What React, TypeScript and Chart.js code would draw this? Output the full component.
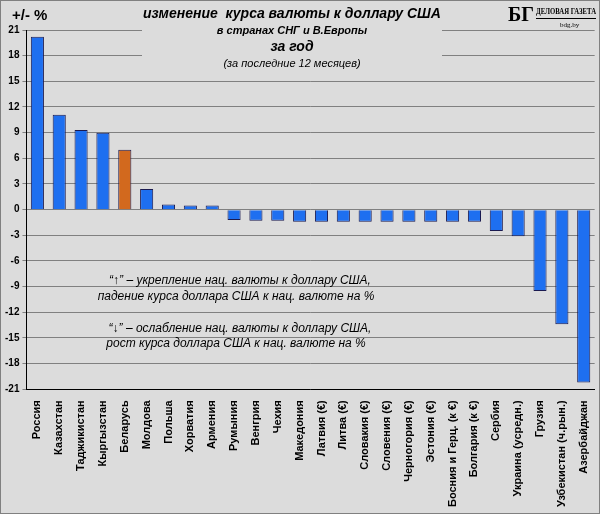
import React, { useEffect, useRef } from "react";
import { Chart, registerables } from "chart.js";
Chart.register(...registerables);

const categories = ["Россия","Казахстан","Таджикистан","Кыргызстан","Беларусь","Молдова","Польша","Хорватия","Армения","Румыния","Венгрия","Чехия","Македония","Латвия (€)","Литва (€)","Словакия (€)","Словения (€)","Черногория (€)","Эстония (€)","Босния и Герц. (к €)","Болгария (к €)","Сербия","Украина (усредн.)","Грузия","Узбекистан (ч.рын.)","Азербайджан"];
const values = [20.2,11.1,9.3,9.0,7.0,2.4,0.6,0.5,0.5,-1.2,-1.3,-1.3,-1.4,-1.4,-1.4,-1.4,-1.4,-1.4,-1.4,-1.4,-1.4,-2.5,-3.1,-9.5,-13.4,-20.2];
const highlight = "Беларусь";
const titleLines = ["изменение  курса валюты к доллару США","в странах СНГ и В.Европы","за год","(за последние 12 месяцев)"];
const note1 = ["“↑” – укрепление нац. валюты к доллару США,","падение курса доллара США к нац. валюте на %"];
const note2 = ["“↓” – ослабление нац. валюты к доллару США,","рост курса доллара США к нац. валюте на %"];

export default function App() {
  const ref = useRef<HTMLCanvasElement>(null);
  useEffect(() => {
    document.body.style.margin = "0";
    const deco = {
      id: "deco",
      beforeDraw(c: any) {
        const ctx = c.ctx;
        ctx.save();
        ctx.fillStyle = "#dcdcdc";
        ctx.fillRect(0, 0, 600, 514);
        ctx.strokeStyle = "#808080";
        ctx.lineWidth = 1;
        ctx.strokeRect(0.5, 0.5, 599, 513);
        ctx.restore();
      },
      afterDatasetsDraw(c: any) {
        const ctx = c.ctx;
        ctx.save();
        ctx.fillStyle = "#dcdcdc";
        ctx.fillRect(142, 4, 300, 70);
        ctx.fillRect(500, 2, 98, 26);
        ctx.fillStyle = "#000";
        ctx.textAlign = "center";
        ctx.textBaseline = "middle";
        ctx.font = "italic bold 14px 'Liberation Sans', Arial";
        ctx.fillText(titleLines[0], 292, 14);
        ctx.font = "italic bold 11px 'Liberation Sans', Arial";
        ctx.fillText(titleLines[1], 292, 31);
        ctx.font = "italic bold 14px 'Liberation Sans', Arial";
        ctx.fillText(titleLines[2], 292, 47);
        ctx.font = "italic 11px 'Liberation Sans', Arial";
        ctx.fillText(titleLines[3], 292, 64);
        ctx.font = "italic 12px 'Liberation Sans', Arial";
        ctx.fillText(note1[0], 240, 281);
        ctx.fillText(note1[1], 236, 297);
        ctx.fillText(note2[0], 240, 329);
        ctx.fillText(note2[1], 236, 344);
        ctx.font = "bold 15px 'Liberation Sans', Arial";
        ctx.textAlign = "left";
        ctx.fillText("+/- %", 12, 16);
        // logo
        ctx.font = "bold 22px 'Liberation Serif', serif";
        ctx.fillText("БГ", 508, 15, 26);
        ctx.font = "bold 9px 'Liberation Serif', serif";
        ctx.fillText("ДЕЛОВАЯ ГАЗЕТА", 536, 12, 60);
        ctx.fillRect(536, 18, 60, 1);
        ctx.font = "7px 'Liberation Serif', serif";
        ctx.fillText("bdg.by", 560, 25);
        ctx.restore();
      },
    };
    const chart = new Chart(ref.current!, {
      type: "bar",
      data: {
        labels: categories,
        datasets: [{
          data: values,
          backgroundColor: categories.map(c => c === highlight ? "#d2691e" : "#1e6ff0"),
          borderColor: "#1a1a50",
          borderWidth: 1,
          barPercentage: 0.6,
          categoryPercentage: 1,
        }],
      },
      options: {
        responsive: false,
        animation: false,
        layout: { padding: { top: 30, right: 4, left: 2, bottom: 4 } },
        plugins: { legend: { display: false }, tooltip: { enabled: false } },
        scales: {
          x: {
            grid: { display: false },
            border: { color: "#000" },
            ticks: {
              color: "#000", autoSkip: false, maxRotation: 90, minRotation: 90,
              font: { family: "'Liberation Sans', Arial", size: 11, weight: "bold" },
            },
          },
          y: {
            min: -21, max: 21,
            afterBuildTicks: (a: any) => { a.ticks = []; for (let v = -21; v <= 21; v += 3) a.ticks.push({ value: v }); },
            grid: { color: "#808080", drawTicks: true, tickLength: 4 },
            border: { color: "#000" },
            ticks: { color: "#000", font: { family: "'Liberation Sans', Arial", size: 10, weight: "bold" } },
          },
        },
      },
      plugins: [deco],
    });
    return () => chart.destroy();
  }, []);
  return <canvas ref={ref} width={600} height={514} style={{ display: "block" }} />;
}
